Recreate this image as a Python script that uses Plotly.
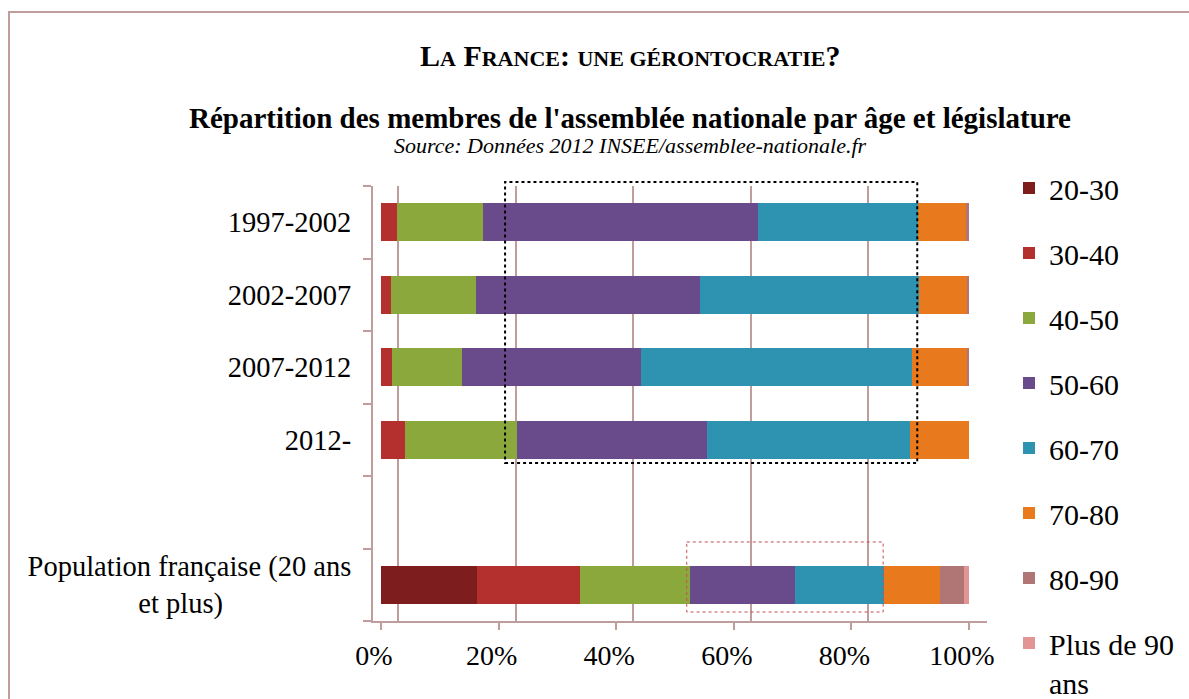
import plotly.graph_objects as go

# ---------------- data ----------------
categories = ["1997-2002", "2002-2007", "2007-2012", "2012-", " ",
              "Population française (20 ans et plus)"]
tick_labels = ["1997-2002", "2002-2007", "2007-2012", "2012-", "",
               "Population française (20 ans<br>et plus)" + "\u00a0" * 18]

age_groups = ["20-30", "30-40", "40-50", "50-60", "60-70", "70-80", "80-90",
              "Plus de 90<br>ans"]

v_20_30 = [0, 0, 0, 0, None, 16.3]
v_30_40 = [2.8, 1.7, 1.8, 4.0, None, 17.5]
v_40_50 = [14.5, 14.5, 11.9, 19.2, None, 18.8]
v_50_60 = [46.8, 38.0, 30.5, 32.2, None, 17.8]
v_60_70 = [27.3, 37.3, 46.1, 34.6, None, 15.2]
v_70_80 = [8.1, 8.3, 9.5, 10.0, None, 9.4]
v_80_90 = [0.5, 0.2, 0.2, 0, None, 4.2]
v_90_plus = [0, 0, 0, 0, None, 0.8]

series = [v_20_30, v_30_40, v_40_50, v_50_60, v_60_70, v_70_80, v_80_90, v_90_plus]
colors = ["#7E1D1D", "#B3302F", "#8AA83C", "#694B8C", "#2D93B1", "#E8791C",
          "#B07676", "#E39494"]

x_ticks = [0, 20, 40, 60, 80, 100]
x_tick_labels = ["0%", "20%", "40%", "60%", "80%", "100%"]

# ---------------- layout geometry (pixels) ----------------
W, H = 1189, 699
PL, PR, PT, PB = 373, 987, 186, 621
pw, ph = PR - PL, PB - PT
FONT = "Liberation Serif"
ROSY = "#C09D9D"


def px_x(px):
    return (px - PL) / pw


def px_y(py):
    return (PB - py) / ph


fig = go.Figure()
for name, vals, col in zip(age_groups, series, colors):
    fig.add_trace(go.Bar(
        y=categories, x=vals, name=name, orientation="h",
        marker=dict(color=col, line=dict(width=0)),
        width=0.52, legendgroup=name,
    ))

# x range so that 0% sits at the start of the bars
x0 = -8 / 5.88
x1 = x0 + pw / 5.88
shift = 17 / 5.88

fig.update_layout(
    width=W, height=H,
    margin=dict(l=PL, r=W - PR, t=PT, b=H - PB, pad=0),
    paper_bgcolor="white", plot_bgcolor="rgba(0,0,0,0)",
    barmode="stack",
    font=dict(family=FONT, color="black", size=28),
    showlegend=True,
    legend=dict(
        xref="container", yref="container",
        x=1009 / W, y=1 - 162 / H, xanchor="left", yanchor="top",
        font=dict(family=FONT, size=30, color="black"),
        traceorder="grouped", tracegroupgap=23, valign="top",
        bgcolor="rgba(0,0,0,0)", maxheight=600,
    ),
    xaxis=dict(
        range=[x0, x1], tickmode="array", tickvals=x_ticks, ticktext=x_tick_labels,
        showgrid=False, zeroline=False,
        showline=True, linecolor=ROSY, linewidth=2,
        ticks="outside", ticklen=7, tickcolor=ROSY, tickwidth=2,
        ticklabelshift=-7, ticklabelstandoff=1,
        tickfont=dict(family=FONT, size=28, color="black"),
    ),
    xaxis2=dict(
        overlaying="x", anchor="y", side="bottom",
        range=[x0 - shift, x1 - shift], tickmode="array", tickvals=x_ticks,
        showgrid=True, gridcolor=ROSY, gridwidth=2,
        showticklabels=False, ticks="", showline=False, zeroline=False,
    ),
    yaxis=dict(
        type="category", categoryorder="array", categoryarray=categories,
        range=[5.5, -0.5],
        tickmode="array", tickvals=categories, ticktext=tick_labels,
        tickson="boundaries", ticks="outside", ticklen=8,
        tickcolor=ROSY, tickwidth=2,
        showline=True, linecolor=ROSY, linewidth=2,
        showgrid=False, zeroline=False,
        ticklabelstandoff=14,
        tickfont=dict(family=FONT, size=28.5, color="black"),
    ),
)

# empty trace so the gridline axis is drawn
fig.add_trace(go.Scatter(x=[], y=[], xaxis="x2", yaxis="y", showlegend=False,
                         hoverinfo="skip"))

# ---------------- titles ----------------
sc = "font-size:22px"
title = (f"L<span style='{sc}'>A</span> F<span style='{sc}'>RANCE</span>: "
         f"<span style='{sc}'>UNE GÉRONTOCRATIE</span>?")
cx = px_x(630)
fig.add_annotation(xref="paper", yref="paper", x=cx, y=px_y(56),
                   text=f"<b>{title}</b>", showarrow=False,
                   font=dict(family=FONT, size=30, color="black"),
                   xanchor="center", yanchor="middle")
fig.add_annotation(xref="paper", yref="paper", x=cx, y=px_y(118),
                   text="<b>Répartition des membres de l'assemblée nationale par âge et législature</b>",
                   showarrow=False, font=dict(family=FONT, size=29, color="black"),
                   xanchor="center", yanchor="middle")
fig.add_annotation(xref="paper", yref="paper", x=cx, y=px_y(146),
                   text="<i>Source: Données 2012 INSEE/assemblee-nationale.fr</i>",
                   showarrow=False, font=dict(family=FONT, size=22, color="black"),
                   xanchor="center", yanchor="middle")

# ---------------- decorations ----------------
# outer frame of the chart
fig.add_shape(type="rect", xref="paper", yref="paper",
              x0=px_x(9), x1=px_x(1210), y0=px_y(720), y1=px_y(12),
              line=dict(color=ROSY, width=2), layer="below")
# dotted highlight box around the legislatures
fig.add_shape(type="rect", xref="x", yref="paper",
              x0=21.1, x1=91.2, y0=px_y(463), y1=px_y(182),
              line=dict(color="black", width=2, dash="dot"), layer="above")
# red dashed highlight on the population bar
fig.add_shape(type="rect", xref="x", yref="y",
              x0=52.0, x1=85.4, y0=4.41, y1=5.376,
              line=dict(color="#C0504D", width=1, dash="dot"), layer="above")

fig.write_html("out.html", config={"displayModeBar": False},
               post_script="document.body.style.margin='0px';")
